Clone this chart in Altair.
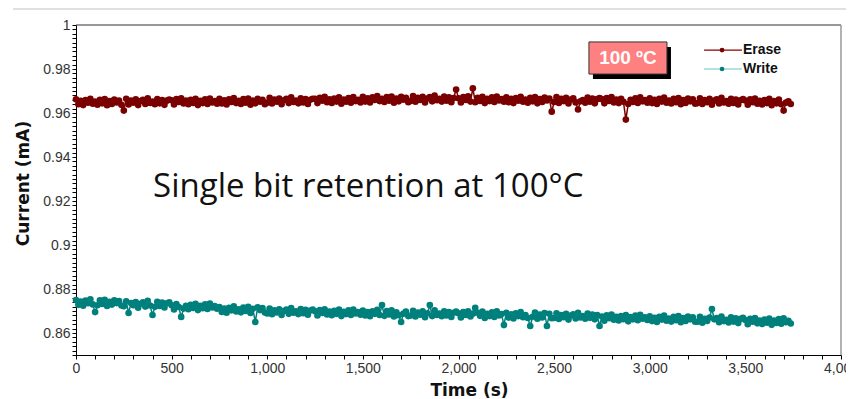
import altair as alt
import pandas as pd

# sampling times (s): one reading every 12.5 s
time_s = [i * 12.5 for i in range(300)]

erase_mA = [
    0.9662, 0.9640, 0.9655, 0.9636, 0.9659, 0.9647, 0.9665, 0.9642, 0.9652, 0.9638, 0.9660, 0.9644, 0.9663, 0.9635, 0.9654, 0.9641, 0.9661, 0.9648, 0.9657, 0.9637,
    0.9611, 0.9665, 0.9639, 0.9657, 0.9647, 0.9662, 0.9636, 0.9654, 0.9660, 0.9641, 0.9667, 0.9646, 0.9652, 0.9640, 0.9663, 0.9644, 0.9659, 0.9637, 0.9656, 0.9661,
    0.9658, 0.9639, 0.9663, 0.9650, 0.9667, 0.9643, 0.9656, 0.9640, 0.9660, 0.9646, 0.9665, 0.9636, 0.9655, 0.9645, 0.9662, 0.9641, 0.9666, 0.9648, 0.9654, 0.9642,
    0.9665, 0.9643, 0.9658, 0.9639, 0.9662, 0.9650, 0.9668, 0.9645, 0.9655, 0.9641, 0.9663, 0.9647, 0.9666, 0.9638, 0.9657, 0.9644, 0.9664, 0.9651, 0.9660, 0.9640,
    0.9647, 0.9669, 0.9643, 0.9661, 0.9651, 0.9666, 0.9640, 0.9658, 0.9664, 0.9645, 0.9671, 0.9650, 0.9656, 0.9644, 0.9667, 0.9648, 0.9663, 0.9641, 0.9660, 0.9665,
    0.9664, 0.9645, 0.9669, 0.9656, 0.9673, 0.9649, 0.9662, 0.9646, 0.9666, 0.9652, 0.9671, 0.9642, 0.9661, 0.9651, 0.9668, 0.9647, 0.9672, 0.9654, 0.9660, 0.9648,
    0.9674, 0.9652, 0.9667, 0.9648, 0.9671, 0.9659, 0.9677, 0.9654, 0.9664, 0.9650, 0.9672, 0.9656, 0.9675, 0.9647, 0.9666, 0.9653, 0.9673, 0.9660, 0.9669, 0.9649,
    0.9655, 0.9677, 0.9651, 0.9669, 0.9659, 0.9674, 0.9648, 0.9666, 0.9672, 0.9653, 0.9679, 0.9658, 0.9664, 0.9652, 0.9675, 0.9656, 0.9671, 0.9649, 0.9668, 0.9707,
    0.9667, 0.9648, 0.9672, 0.9659, 0.9676, 0.9652, 0.9712, 0.9649, 0.9669, 0.9655, 0.9674, 0.9645, 0.9664, 0.9654, 0.9671, 0.9650, 0.9675, 0.9657, 0.9663, 0.9651,
    0.9671, 0.9649, 0.9664, 0.9645, 0.9668, 0.9656, 0.9674, 0.9651, 0.9661, 0.9647, 0.9669, 0.9653, 0.9672, 0.9644, 0.9663, 0.9650, 0.9670, 0.9657, 0.9666, 0.9606,
    0.9650, 0.9672, 0.9646, 0.9664, 0.9654, 0.9669, 0.9643, 0.9661, 0.9667, 0.9648, 0.9616, 0.9653, 0.9659, 0.9647, 0.9670, 0.9651, 0.9666, 0.9644, 0.9663, 0.9668,
    0.9663, 0.9644, 0.9668, 0.9655, 0.9672, 0.9648, 0.9661, 0.9645, 0.9665, 0.9651, 0.9570, 0.9641, 0.9660, 0.9650, 0.9667, 0.9646, 0.9671, 0.9653, 0.9659, 0.9647,
    0.9667, 0.9645, 0.9660, 0.9641, 0.9664, 0.9652, 0.9670, 0.9647, 0.9657, 0.9643, 0.9665, 0.9649, 0.9668, 0.9640, 0.9659, 0.9646, 0.9666, 0.9653, 0.9662, 0.9642,
    0.9645, 0.9667, 0.9641, 0.9659, 0.9649, 0.9664, 0.9638, 0.9656, 0.9662, 0.9643, 0.9669, 0.9648, 0.9654, 0.9642, 0.9665, 0.9646, 0.9661, 0.9639, 0.9658, 0.9663,
    0.9657, 0.9638, 0.9662, 0.9649, 0.9666, 0.9642, 0.9655, 0.9639, 0.9659, 0.9645, 0.9664, 0.9635, 0.9654, 0.9644, 0.9661, 0.9640, 0.9611, 0.9647, 0.9653, 0.9641,
]

write_mA = [
    0.8750, 0.8728, 0.8743, 0.8724, 0.8747, 0.8735, 0.8753, 0.8730, 0.8695, 0.8726, 0.8748, 0.8732, 0.8751, 0.8723, 0.8742, 0.8729, 0.8749, 0.8736, 0.8745, 0.8725,
    0.8722, 0.8744, 0.8691, 0.8736, 0.8726, 0.8741, 0.8715, 0.8733, 0.8739, 0.8720, 0.8746, 0.8725, 0.8682, 0.8719, 0.8742, 0.8723, 0.8738, 0.8716, 0.8735, 0.8740,
    0.8726, 0.8707, 0.8731, 0.8718, 0.8673, 0.8711, 0.8724, 0.8708, 0.8728, 0.8714, 0.8733, 0.8704, 0.8723, 0.8713, 0.8730, 0.8709, 0.8734, 0.8716, 0.8722, 0.8710,
    0.8718, 0.8696, 0.8711, 0.8692, 0.8715, 0.8703, 0.8721, 0.8698, 0.8708, 0.8694, 0.8716, 0.8700, 0.8719, 0.8691, 0.8710, 0.8650, 0.8717, 0.8704, 0.8713, 0.8693,
    0.8689, 0.8711, 0.8685, 0.8703, 0.8693, 0.8708, 0.8682, 0.8700, 0.8706, 0.8687, 0.8713, 0.8692, 0.8698, 0.8686, 0.8709, 0.8690, 0.8705, 0.8683, 0.8702, 0.8707,
    0.8699, 0.8680, 0.8704, 0.8691, 0.8708, 0.8684, 0.8697, 0.8681, 0.8701, 0.8687, 0.8706, 0.8677, 0.8696, 0.8686, 0.8703, 0.8682, 0.8707, 0.8689, 0.8695, 0.8683,
    0.8702, 0.8680, 0.8695, 0.8676, 0.8699, 0.8687, 0.8705, 0.8682, 0.8727, 0.8678, 0.8700, 0.8684, 0.8703, 0.8675, 0.8694, 0.8681, 0.8650, 0.8688, 0.8697, 0.8677,
    0.8679, 0.8701, 0.8675, 0.8693, 0.8683, 0.8698, 0.8672, 0.8690, 0.8727, 0.8677, 0.8703, 0.8682, 0.8688, 0.8676, 0.8699, 0.8680, 0.8695, 0.8673, 0.8692, 0.8697,
    0.8690, 0.8671, 0.8695, 0.8682, 0.8699, 0.8675, 0.8688, 0.8714, 0.8692, 0.8678, 0.8697, 0.8668, 0.8687, 0.8677, 0.8694, 0.8673, 0.8698, 0.8680, 0.8686, 0.8636,
    0.8692, 0.8670, 0.8685, 0.8666, 0.8689, 0.8677, 0.8695, 0.8672, 0.8682, 0.8668, 0.8632, 0.8674, 0.8693, 0.8665, 0.8684, 0.8671, 0.8691, 0.8632, 0.8687, 0.8667,
    0.8668, 0.8690, 0.8664, 0.8682, 0.8672, 0.8687, 0.8661, 0.8679, 0.8685, 0.8666, 0.8692, 0.8671, 0.8677, 0.8665, 0.8688, 0.8669, 0.8684, 0.8662, 0.8681, 0.8632,
    0.8675, 0.8656, 0.8680, 0.8667, 0.8684, 0.8660, 0.8673, 0.8657, 0.8677, 0.8663, 0.8682, 0.8653, 0.8672, 0.8662, 0.8679, 0.8658, 0.8683, 0.8665, 0.8671, 0.8659,
    0.8676, 0.8654, 0.8669, 0.8650, 0.8673, 0.8661, 0.8679, 0.8656, 0.8666, 0.8652, 0.8674, 0.8658, 0.8677, 0.8649, 0.8668, 0.8655, 0.8675, 0.8662, 0.8671, 0.8651,
    0.8651, 0.8673, 0.8647, 0.8665, 0.8655, 0.8670, 0.8709, 0.8662, 0.8668, 0.8649, 0.8675, 0.8654, 0.8660, 0.8648, 0.8671, 0.8652, 0.8667, 0.8645, 0.8664, 0.8669,
    0.8659, 0.8640, 0.8664, 0.8651, 0.8668, 0.8644, 0.8657, 0.8641, 0.8661, 0.8647, 0.8666, 0.8637, 0.8656, 0.8646, 0.8663, 0.8642, 0.8667, 0.8649, 0.8655, 0.8643,
]

series_names = ["Erase", "Write"]
series_colors = ["#7a0000", "#00807c"]
legend_line_colors = ["#8b0000", "#66c8c8"]

annotation_text = "Single bit retention at 100°C"
badge_text = "100 ºC"
x_title = "Time (s)"
y_title = "Current (mA)"

df = pd.concat([
    pd.DataFrame({"t": time_s, "I": erase_mA, "series": "Erase"}),
    pd.DataFrame({"t": time_s, "I": write_mA, "series": "Write"}),
])

W, H = 765, 330
xs = alt.Scale(domain=[0, 4000], nice=False)
ys = alt.Scale(domain=[0.85, 1.0], nice=False, zero=False)
cs = alt.Scale(domain=series_names, range=series_colors)

x_ticks = list(range(0, 4001, 100))
y_ticks = [round(0.85 + 0.002 * i, 3) for i in range(76)]

x_axis = alt.Axis(
    values=x_ticks, tickCount=1000,
    labelExpr="datum.value % 500 === 0 ? format(datum.value, ',') : ''",
    labelOverlap=False, labelFlush=False, grid=False,
    tickSize=4, tickColor="#000", domainColor="#000",
    labelFont="Liberation Sans", labelFontSize=14, labelColor="#333", labelPadding=2,
    title=x_title, titleFont="DejaVu Sans", titleFontSize=17, titleFontWeight="bold",
    titleColor="#111", titleX=393, titleY=35, titleBaseline="middle", titleAlign="center",
)
y_axis = alt.Axis(
    values=y_ticks, tickCount=1000,
    labelExpr="abs(datum.value*50 - round(datum.value*50)) < 1e-6 ? format(datum.value, '~g') : ''",
    labelOverlap=False, labelFlush=False, grid=False,
    tickSize=4, tickColor="#000", domainColor="#000",
    labelFont="Liberation Sans", labelFontSize=14, labelColor="#333", labelPadding=2,
    title=y_title, titleFont="DejaVu Sans", titleFontSize=17, titleFontWeight="bold",
    titleColor="#111", titleX=-53, titleY=158, titleAngle=-90,
    titleBaseline="middle", titleAlign="center",
)

base = alt.Chart(df)
lines = base.mark_line(strokeWidth=1.5).encode(
    x=alt.X("t:Q", scale=xs, axis=x_axis),
    y=alt.Y("I:Q", scale=ys, axis=y_axis),
    color=alt.Color("series:N", scale=cs, legend=None),
    detail="series:N",
)
points = base.mark_circle(size=44, opacity=1).encode(
    x=alt.X("t:Q", scale=xs, axis=x_axis),
    y=alt.Y("I:Q", scale=ys, axis=y_axis),
    color=alt.Color("series:N", scale=cs, legend=None),
)

one = alt.Data(values=[{}])

top_frame = alt.Chart(one).mark_rule(color="#333", strokeWidth=1).encode(y=alt.datum(1.0, scale=ys))
right_frame = alt.Chart(one).mark_rule(color="#999", strokeWidth=1.5).encode(x=alt.datum(4000, scale=xs))
page_line = alt.Chart(one).mark_rule(color="#d6d6d6", strokeWidth=1.5).encode(
    x=alt.value(-63), x2=alt.value(790), y=alt.value(-16)
)

annotation = alt.Chart(one).mark_text(
    text=annotation_text, font="Open Sans", fontSize=33, align="left", baseline="middle", color="#111"
).encode(x=alt.datum(403), y=alt.datum(0.9262))

badge_shadow = alt.Chart(one).mark_rect(color="#000", xOffset=4, yOffset=5, x2Offset=4, y2Offset=5).encode(
    x=alt.datum(2682), x2=alt.datum(3090), y=alt.datum(0.9923), y2=alt.datum(0.9777)
)
badge = alt.Chart(one).mark_rect(fill="#ff8080", stroke="#333", strokeWidth=1).encode(
    x=alt.datum(2682), x2=alt.datum(3090), y=alt.datum(0.9923), y2=alt.datum(0.9777)
)
badge_label = alt.Chart(one).mark_text(
    text=badge_text, font="Liberation Sans", fontSize=19, fontWeight="bold", color="#fff",
    align="center", baseline="middle"
).encode(x=alt.datum(2886), y=alt.datum(0.9852))

leg = pd.DataFrame({
    "series": series_names,
    "lc": legend_line_colors,
    "pc": series_colors,
    "ly": [0.9886, 0.9800],
})
leg_lines = alt.Chart(leg).mark_rule(strokeWidth=1.2).encode(
    x=alt.datum(3284), x2=alt.datum(3482), y=alt.Y("ly:Q", scale=ys),
    color=alt.Color("lc:N", scale=None),
)
leg_pts = alt.Chart(leg).mark_circle(size=22, opacity=1).encode(
    x=alt.datum(3378), y=alt.Y("ly:Q", scale=ys), color=alt.Color("pc:N", scale=None),
)
leg_txt = alt.Chart(leg).mark_text(
    font="Liberation Sans", fontSize=14, fontWeight="bold", align="left", baseline="middle", color="#111", dx=1
).encode(x=alt.datum(3482), y=alt.Y("ly:Q", scale=ys), text="series:N")

chart = alt.layer(
    lines, points, top_frame, right_frame, page_line, annotation,
    badge_shadow, badge, badge_label, leg_lines, leg_pts, leg_txt,
).properties(
    width=W, height=H,
    autosize=alt.AutoSizeParams(type="none"),
    padding={"left": 68, "top": 17, "right": 5, "bottom": 44},
    background="white",
).configure_view(stroke=None)

chart.save("out.html", embed_options={"renderer": "svg", "actions": False})
